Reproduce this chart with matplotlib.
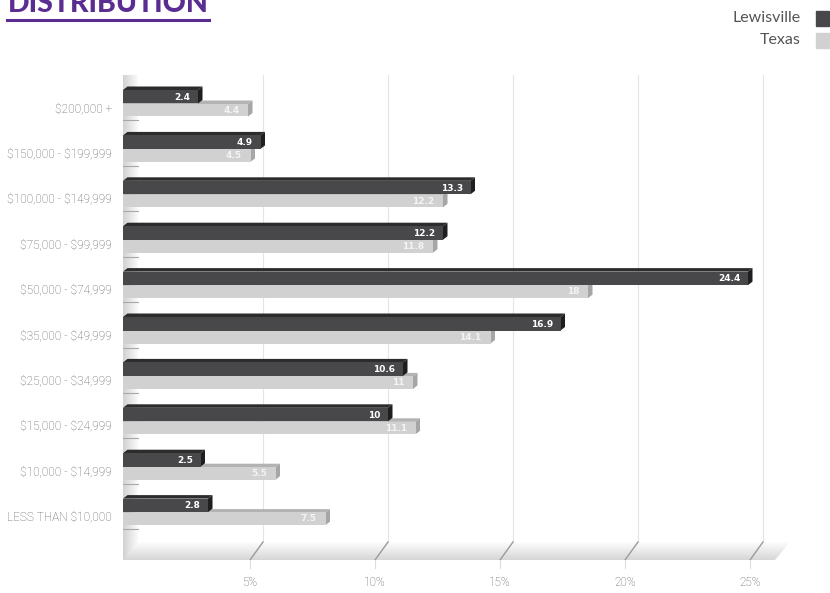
import numpy as np
import matplotlib.pyplot as plt
from matplotlib.patches import Polygon

categories = ["$200,000 +", "$150,000 - $199,999", "$100,000 - $149,999",
              "$75,000 - $99,999", "$50,000 - $74,999", "$35,000 - $49,999",
              "$25,000 - $34,999", "$15,000 - $24,999", "$10,000 - $14,999",
              "LESS THAN $10,000"]
lewisville = [2.4, 4.9, 13.3, 12.2, 24.4, 16.9, 10.6, 10, 2.5, 2.8]
texas = [4.4, 4.5, 12.2, 11.8, 18, 14.1, 11, 11.1, 5.5, 7.5]
ticks = [5, 10, 15, 20, 25]
tick_labels = ["5%", "10%", "15%", "20%", "25%"]

DARK, DARK_TOP, DARK_SIDE = "#48484a", "#2c2c2c", "#1f1f1f"
LIGHT, LIGHT_TOP, LIGHT_SIDE = "#d1d1d1", "#b3b3b3", "#a6a6a6"
PURPLE = "#5c2d91"
LABEL = "#5e5e5e"
THIN = ["Roboto", "DejaVu Sans"]

# pixel geometry of the picture
X0, SX = 138.0, 25.0      # px of 0 %, px per %
Y0, SY = 103.5, 45.4      # px of first row boundary, px per row

def px_x(p):
    return (p - X0) / SX

def px_y(p):
    return (p - Y0) / SY

fig = plt.figure(figsize=(8.3, 5.93), dpi=100)
ax = fig.add_axes([123 / 830, 1 - 560 / 593, 677 / 830, 485 / 593])
XL = px_x(123)
ax.set_xlim(XL, px_x(800))
ax.set_ylim(px_y(560), px_y(75))
ax.axis("off")

dx, dy = 4.5 / SX, -3.5 / SY
floor_top, floor_bot = px_y(542), px_y(560)
front_off = 13 / SX

# back gridlines
for t in ticks:
    ax.plot([t, t], [px_y(75), floor_top], color="#e4e4e4", lw=0.8, zorder=0)

# left wall
wall = np.linspace(0.82, 0.98, 50).reshape(1, -1)
ax.imshow(wall, cmap="gray", vmin=0, vmax=1, aspect="auto",
          extent=[XL, 0, floor_bot, px_y(75)], zorder=1)

# floor
floor_poly = Polygon([(0, floor_top), (px_x(790), floor_top),
                      (px_x(775), floor_bot), (XL, floor_bot)],
                     closed=True, facecolor="none", edgecolor="none")
ax.add_patch(floor_poly)
grad = np.linspace(0.99, 0.84, 50).reshape(-1, 1)
im = ax.imshow(grad, cmap="gray", vmin=0, vmax=1, aspect="auto",
               extent=[XL, px_x(790), floor_bot, floor_top], zorder=1)
im.set_clip_path(floor_poly)
ax.plot([XL, px_x(775)], [floor_bot, floor_bot], color="#cccccc", lw=0.8, zorder=2)

# floor ticks and labels
for t, lab in zip(ticks, tick_labels):
    ax.plot([t, t - front_off], [floor_top, floor_bot], color="#9a9a9a", lw=1.0, zorder=2)
    ax.plot([t - front_off, t - front_off], [floor_bot, px_y(568)], color="#dddddd",
            lw=0.8, clip_on=False)
    ax.text(t - front_off, px_y(582), lab, ha="center", va="center", fontsize=8.5,
            color=LABEL, family=THIN, fontweight="light", clip_on=False)

# small stubs on the wall
for i in range(len(categories)):
    ax.plot([XL, 0], [i + 17 / SY, i + 17 / SY], color="#a8a8a8", lw=0.8, zorder=2)


def bar3d(y_top, y_bot, v, front, top, side):
    ax.add_patch(Polygon([(XL, y_top), (XL + dx, y_top + dy), (v + dx, y_top + dy), (v, y_top)],
                         closed=True, facecolor=top, edgecolor="none", zorder=3))
    ax.add_patch(Polygon([(v, y_top), (v + dx, y_top + dy), (v + dx, y_bot + dy), (v, y_bot)],
                         closed=True, facecolor=side, edgecolor="none", zorder=3))
    ax.barh((y_top + y_bot) / 2, v - XL, height=y_bot - y_top, left=XL,
            color=front, zorder=3)


hd = 13.5 / SY
for i, (lv, tx) in enumerate(zip(lewisville, texas)):
    lt, lb = i + 0.5 / SY, i + 13 / SY
    bar3d(lt, lb, tx, LIGHT, LIGHT_TOP, LIGHT_SIDE)
    ax.text(tx - 0.35, (lt + lb) / 2, f"{tx:g}", ha="right", va="center",
            fontsize=6.5, fontweight="bold", color="#f4f4f4", zorder=4)
    dt, db = i - hd, i
    bar3d(dt, db, lv, DARK, DARK_TOP, DARK_SIDE)
    ax.text(lv - 0.3, (dt + db) / 2 + 0.01, f"{lv:g}", ha="right", va="center",
            fontsize=6.5, fontweight="bold", color="white", zorder=4)
    ax.text(px_x(112), i + 5 / SY, categories[i], ha="right", va="center",
            fontsize=8.6, color=LABEL, clip_on=False, family=THIN, fontweight="light",
            parse_math=False)

# title (cropped at the top as in the picture)
fig.text(8 / 830, 1 - 12 / 593, "DISTRIBUTION", ha="left", va="baseline",
         fontsize=20.5, fontweight="black", color=PURPLE, family=["Lato", "DejaVu Sans"])
fig.add_artist(plt.Line2D([7 / 830, 209 / 830], [1 - 20 / 593, 1 - 20 / 593],
                          color=PURPLE, lw=2.2))

# legend
for j, (name, col) in enumerate([("Lewisville", DARK), ("Texas", LIGHT)]):
    yc = 18.5 + 22 * j
    fig.text(801 / 830, 1 - yc / 593, name, ha="right", va="center", fontsize=11.5,
             color="#555555", family=["Lato", "DejaVu Sans"])
    fig.add_artist(plt.Rectangle((816 / 830, 1 - (yc + 7) / 593), 13 / 830, 14 / 593,
                                 color=col, transform=fig.transFigure))

fig.savefig("out.png", dpi=100)
